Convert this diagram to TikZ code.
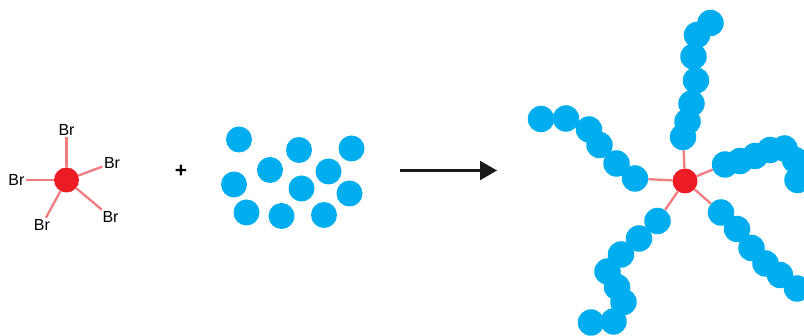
\documentclass[tikz,border=0pt]{standalone}
\usepackage{fontspec}
\setmainfont{Liberation Sans}
\usetikzlibrary{arrows.meta,backgrounds}
\definecolor{monoblue}{HTML}{00AEEF}
\definecolor{corered}{HTML}{ED1C24}
\definecolor{bondpink}{HTML}{F07C80}
\tikzset{
  bead/.style={circle,fill=monoblue,inner sep=0pt,minimum size=26.5pt},
  monomer/.style={circle,fill=monoblue,inner sep=0pt,minimum size=26pt},
  core/.style={circle,fill=corered,inner sep=0pt,minimum size=25pt},
  brlabel/.style={inner sep=1.5pt,font=\fontsize{16}{16}\selectfont},
  bond/.style={draw=bondpink,line width=2.3pt},
  reacts/.style={draw=black!90,line width=2.2pt,-{Triangle[length=17pt,width=19pt]}}
}
\begin{document}
\begin{tikzpicture}[x=1pt,y=-1pt]
\useasboundingbox (0,0) rectangle (804,336);

% initiator: core with five bromine arms
\node[core] (init) at (66.5,180) {};
\node[brlabel] (brT)  at (66.5,130) {Br};
\node[brlabel] (brR)  at (112,163) {Br};
\node[brlabel] (brL)  at (16.5,180) {Br};
\node[brlabel] (brBL) at (42,225) {Br};
\node[brlabel] (brBR) at (110.5,217) {Br};
\begin{scope}[on background layer]
  \foreach \b in {brT,brR,brL,brBL,brBR} \draw[bond] (init) -- (\b);
\end{scope}

% plus sign
\node[inner sep=0pt,font=\fontsize{21}{21}\selectfont\bfseries] (plus) at (181,171.5) {+};

% free monomers
\foreach \i/\x/\y in {1/239/139.5, 2/299/150, 3/351.5/148.5, 4/270/170, 5/328.5/171.5,
                      6/234/184.5, 7/301.5/188.5, 8/349.5/193.5, 9/246.5/212.5,
                      10/281.5/216, 11/324/215}
  \node[monomer] (m\i) at (\x,\y) {};

% reaction arrow
\coordinate (arrS) at (400,170.5);
\coordinate (arrE) at (497,170.5);
\draw[reacts] (arrS) -- (arrE);

% star polymer
\node[core] (star) at (685,181) {};

% arm 1: upward
\foreach \i/\x/\y in {1/683/137, 2/687.5/121.5, 3/691.5/103.5, 4/696/80.5,
                      5/693.5/56.5, 6/697/35, 7/710.5/23}
  \node[bead] (a\i) at (\x,\y) {};
% arm 2: upper left
\foreach \i/\x/\y in {1/635/178.5, 2/616.5/163.5, 3/599.5/145, 4/589/129.5,
                      5/566/118.5, 6/541/119}
  \node[bead] (b\i) at (\x,\y) {};
% arm 3: lower left
\foreach \i/\x/\y in {1/657.5/221, 2/639/238.5, 3/621/254.5, 4/607.5/271.5,
                      5/617/287, 6/623.5/302, 7/613.5/321.5, 8/591/322.5}
  \node[bead] (c\i) at (\x,\y) {};
% arm 4: right
\foreach \i/\x/\y in {1/725/164.5, 2/740/161, 3/755/156, 4/770/150,
                      5/784.5/148.5, 6/795/160, 7/797.5/180}
  \node[bead] (d\i) at (\x,\y) {};
% arm 5: lower right
\foreach \i/\x/\y in {1/721/212.5, 2/737/229, 3/751.5/248, 4/765.5/263.5,
                      5/780/275, 6/797/288.5}
  \node[bead] (e\i) at (\x,\y) {};

\begin{scope}[on background layer]
  \foreach \b in {a1,b1,c1,d1,e1} \draw[bond] (star) -- (\b);
\end{scope}
\end{tikzpicture}
\end{document}
